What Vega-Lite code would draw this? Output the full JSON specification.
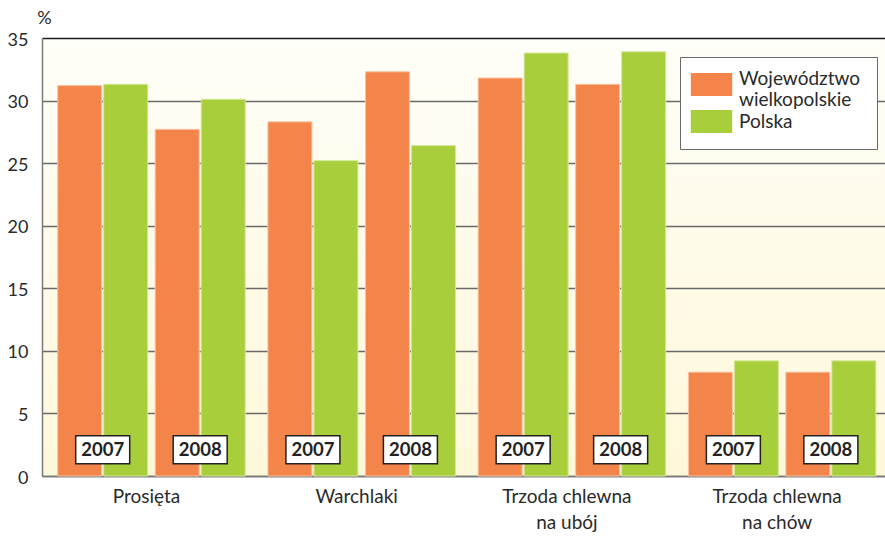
{
  "$schema": "https://vega.github.io/schema/vega-lite/v6.json",
  "width": 843,
  "height": 438,
  "autosize": {"type": "none"},
  "padding": {"left": 42, "top": 38, "right": 0, "bottom": 60},
  "background": "white",
  "view": {
    "stroke": null,
    "fill": {"gradient": "linear", "x1": 0, "y1": 0, "x2": 0, "y2": 1,
      "stops": [{"offset": 0, "color": "#FFFEF8"}, {"offset": 1, "color": "#FEF8DA"}]}
  },
  "config": {
    "font": "Lato",
    "axis": {"labelFont": "Lato", "titleFont": "Lato"},
    "legend": {"labelFont": "Lato"}
  },
  "data": {
    "values": [
      {"category": "Prosięta", "year": "2007", "series": "Województwo wielkopolskie", "value": 31.2},
      {"category": "Prosięta", "year": "2007", "series": "Polska", "value": 31.3},
      {"category": "Prosięta", "year": "2008", "series": "Województwo wielkopolskie", "value": 27.7},
      {"category": "Prosięta", "year": "2008", "series": "Polska", "value": 30.1},
      {"category": "Warchlaki", "year": "2007", "series": "Województwo wielkopolskie", "value": 28.3},
      {"category": "Warchlaki", "year": "2007", "series": "Polska", "value": 25.2},
      {"category": "Warchlaki", "year": "2008", "series": "Województwo wielkopolskie", "value": 32.3},
      {"category": "Warchlaki", "year": "2008", "series": "Polska", "value": 26.4},
      {"category": "Trzoda chlewna na ubój", "year": "2007", "series": "Województwo wielkopolskie", "value": 31.8},
      {"category": "Trzoda chlewna na ubój", "year": "2007", "series": "Polska", "value": 33.8},
      {"category": "Trzoda chlewna na ubój", "year": "2008", "series": "Województwo wielkopolskie", "value": 31.3},
      {"category": "Trzoda chlewna na ubój", "year": "2008", "series": "Polska", "value": 33.9},
      {"category": "Trzoda chlewna na chów", "year": "2007", "series": "Województwo wielkopolskie", "value": 8.3},
      {"category": "Trzoda chlewna na chów", "year": "2007", "series": "Polska", "value": 9.2},
      {"category": "Trzoda chlewna na chów", "year": "2008", "series": "Województwo wielkopolskie", "value": 8.3},
      {"category": "Trzoda chlewna na chów", "year": "2008", "series": "Polska", "value": 9.2}
    ]
  },
  "encoding": {
    "x": {
      "field": "category", "type": "nominal", "sort": null,
      "scale": {"paddingInner": 0.11, "paddingOuter": 0.06, "align": 0.63},
      "axis": {
        "title": null, "labelAngle": 0, "ticks": false, "grid": false,
        "domainColor": "#7a7a7a", "domainWidth": 1.5,
        "labelFontSize": 19, "labelColor": "#2a2a2a", "labelPadding": 11,
        "labelLineHeight": 26, "labelOffset": -5,
        "labelExpr": "split(replace(datum.value, 'chlewna ', 'chlewna|'), '|')"
      }
    }
  },
  "layer": [
    {
      "transform": [{"filter": "datum.series == 'Województwo wielkopolskie'"}],
      "mark": {"type": "bar", "width": 44, "xOffset": {"expr": "(datum.year == '2007' ? -48.75 : 48.75) - 23"}, "stroke": "#FBC3A3", "strokeWidth": 1},
      "encoding": {
        "y": {
          "field": "value", "type": "quantitative", "stack": null,
          "scale": {"domain": [0, 35], "nice": false},
          "axis": {
            "values": [0, 5, 10, 15, 20, 25, 30, 35],
            "title": "%", "titleAngle": 0, "titleFontSize": 18, "titleFontWeight": "normal",
            "titleColor": "#2a2a2a", "titleX": 2, "titleY": -11, "titleAlign": "center", "titleBaseline": "bottom",
            "ticks": false, "grid": true,
            "gridColor": {"condition": {"test": "datum.value == 35", "value": "#1e1e1e"}, "value": "#6a6a6a"},
            "gridWidth": 1.5,
            "domainColor": "#7a7a7a", "domainWidth": 1.5,
            "labelFontSize": 18, "labelColor": "#2a2a2a", "labelPadding": 14, "labelOffset": 2
          }
        },
        "color": {
          "field": "series", "type": "nominal",
          "scale": {"domain": ["Województwo wielkopolskie", "Polska"], "range": ["#F4854A", "#A8CE3B"]},
          "legend": {
            "title": null, "orient": "none", "legendX": 638, "legendY": 19,
            "fillColor": "white", "strokeColor": "#6a6a6a", "padding": 16,
            "symbolType": "M-1.8,-1H1.8V1H-1.8Z", "symbolSize": 529, "symbolStrokeWidth": 0, "symbolOpacity": 1,
            "symbolOffset": 4,
            "labelFontSize": 19, "labelColor": "#2a2a2a", "labelOffset": 16, "labelLimit": 0,
            "labelLineHeight": 19, "rowPadding": 0,
            "labelBaseline": {"expr": "datum.value == 'Polska' ? 'middle' : 'alphabetic'"},
            "labelExpr": "split(replace(datum.value, 'Województwo ', 'Województwo|'), '|')"
          }
        }
      }
    },
    {
      "transform": [{"filter": "datum.series == 'Polska'"}],
      "mark": {"type": "bar", "width": 44, "xOffset": {"expr": "(datum.year == '2007' ? -48.75 : 48.75) + 23"}, "stroke": "#D3E89A", "strokeWidth": 1},
      "encoding": {
        "y": {"field": "value", "type": "quantitative", "stack": null},
        "color": {"field": "series", "type": "nominal"}
      }
    },
    {
      "transform": [{"filter": "datum.series == 'Polska'"}],
      "mark": {"type": "bar", "width": 54, "xOffset": {"expr": "datum.year == '2007' ? -48.75 : 48.75"}, "fill": "white", "stroke": "#222", "strokeWidth": 1.5},
      "encoding": {
        "y": {"datum": 0.98},
        "y2": {"datum": 3.22}
      }
    },
    {
      "transform": [{"filter": "datum.series == 'Polska'"}],
      "mark": {"type": "text", "fontSize": 18.5, "fontWeight": "bold", "color": "#222", "baseline": "middle", "align": "center", "xOffset": {"expr": "datum.year == '2007' ? -48.75 : 48.75"}},
      "encoding": {
        "y": {"datum": 2.1},
        "text": {"field": "year", "type": "nominal"}
      }
    }
  ]
}
